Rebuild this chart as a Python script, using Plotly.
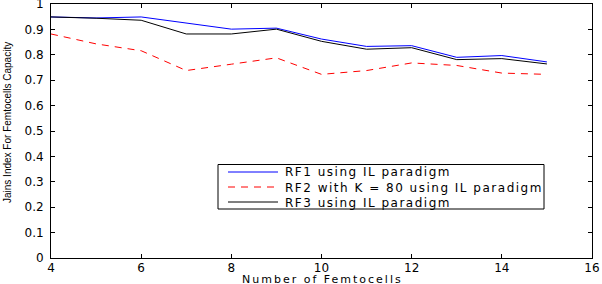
import plotly.graph_objects as go

femtocells = [4, 5, 6, 7, 8, 9, 10, 11, 12, 13, 14, 15]
rf1 = [0.949, 0.945, 0.949, 0.926, 0.901, 0.905, 0.862, 0.833, 0.836, 0.790, 0.797, 0.772]
rf2 = [0.882, 0.843, 0.816, 0.738, 0.763, 0.788, 0.723, 0.738, 0.768, 0.758, 0.728, 0.723]
rf3 = [0.949, 0.944, 0.936, 0.882, 0.882, 0.901, 0.853, 0.822, 0.828, 0.781, 0.785, 0.764]

x_ticks = [4, 6, 8, 10, 12, 14, 16]
y_ticks = [0, 0.1, 0.2, 0.3, 0.4, 0.5, 0.6, 0.7, 0.8, 0.9, 1]
y_ticktext = ["0", "0.1", "0.2", "0.3", "0.4", "0.5", "0.6", "0.7", "0.8", "0.9", "1"]

names = ["RF1 using IL paradigm", "RF2 with K = 80 using IL paradigm", "RF3 using IL paradigm"]
colors = ["#0000ff", "#ff0000", "#000000"]
dashes = ["solid", "7px,6px", "solid"]

W, H = 602, 284
L, R, T, B = 51, 10, 4, 26
pw, ph = W - L - R, H - T - B

fig = go.Figure()
for ys, nm, c, d in zip([rf1, rf2, rf3], names, colors, dashes):
    fig.add_trace(go.Scatter(x=femtocells, y=ys, mode="lines", name=nm,
                             line=dict(color=c, width=1, dash=d), showlegend=False))


def px2x(px):
    return (px - L) / pw


def py2y(py):
    return (H - B - py) / ph


def spaced(t, s=1.4):
    return '<span style="letter-spacing:%.1fpx">%s</span>' % (s, t)


shapes = [dict(type="rect", xref="paper", yref="paper",
               x0=px2x(218), x1=px2x(544), y0=py2y(209), y1=py2y(164.5),
               line=dict(color="black", width=1), fillcolor="white", layer="above")]
annotations = []
rows = [172, 187, 202]
for nm, c, d, ry in zip(names, colors, dashes, rows):
    shapes.append(dict(type="line", xref="paper", yref="paper",
                       x0=px2x(228), x1=px2x(278), y0=py2y(ry), y1=py2y(ry),
                       line=dict(color=c, width=1, dash=d), layer="above"))
    annotations.append(dict(xref="paper", yref="paper", x=px2x(284), y=py2y(ry + 0.5),
                            xanchor="left", yanchor="middle", text=spaced(nm, 1.5), showarrow=False,
                            borderpad=0,
                            font=dict(family="DejaVu Sans", size=12, color="black")))

# axis titles
annotations.append(dict(xref="paper", yref="paper", x=px2x(322), y=py2y(279.5),
                        xanchor="center", yanchor="middle", showarrow=False, borderpad=0,
                        text=spaced("Number of Femtocells", 2.0),
                        font=dict(family="DejaVu Sans", size=11, color="black")))
annotations.append(dict(xref="paper", yref="paper", x=px2x(8), y=py2y(123),
                        xanchor="center", yanchor="middle", showarrow=False, borderpad=0,
                        textangle=-90, text="Jains Index For Femtocells Capacity",
                        font=dict(family="Liberation Sans Narrow, Liberation Sans", size=10,
                                  color="black")))

fig.update_layout(
    width=W, height=H,
    margin=dict(l=L, r=R, t=T, b=B, autoexpand=False),
    paper_bgcolor="white", plot_bgcolor="white",
    font=dict(family="DejaVu Sans", size=12, color="black"),
    shapes=shapes, annotations=annotations,
    xaxis=dict(range=[4, 16], tickmode="array", tickvals=x_ticks,
               ticks="inside", ticklen=4, tickcolor="black", showline=True, linecolor="black",
               linewidth=1, mirror="ticks", showgrid=False, zeroline=False,
               ticklabeloverflow="allow", automargin=False, ticklabelstandoff=-1,
               tickfont=dict(family="DejaVu Sans", size=12, color="black")),
    yaxis=dict(range=[0, 1], tickmode="array", tickvals=y_ticks, ticktext=y_ticktext,
               ticks="inside", ticklen=4, tickcolor="black", showline=True, linecolor="black",
               linewidth=1, mirror="ticks", showgrid=False, zeroline=False,
               ticklabeloverflow="allow", automargin=False, ticklabelstandoff=4,
               tickfont=dict(family="DejaVu Sans", size=12, color="black")),
)

fig.write_html("out.html", config={"displayModeBar": False},
               post_script="document.body.style.margin='0';document.body.style.overflow='hidden';")
